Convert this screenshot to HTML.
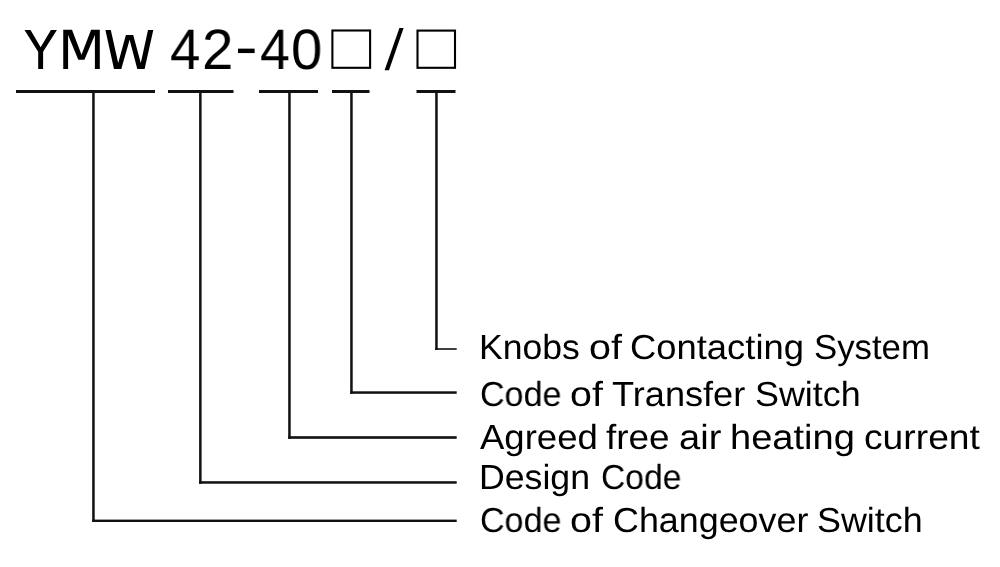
<!DOCTYPE html>
<html><head><meta charset="utf-8"><style>
html,body{margin:0;padding:0;background:#fff;width:1000px;height:567px;overflow:hidden;position:relative}
.t{position:absolute;font-family:"Liberation Sans",sans-serif;line-height:1;white-space:nowrap;color:#000;transform-origin:0 0;text-rendering:geometricPrecision;will-change:transform}
</style></head><body>
<svg width="1000" height="567" viewBox="0 0 1000 567" style="position:absolute;left:0;top:0">
<g fill="#111">
<rect x="16" y="90" width="139" height="3"/>
<rect x="168" y="90" width="65.5" height="3"/>
<rect x="259" y="90" width="59" height="3"/>
<rect x="332" y="90" width="37.5" height="3"/>
<rect x="416.5" y="90" width="39" height="3"/>
<rect x="92.2" y="92" width="2.5" height="430"/>
<rect x="199.1" y="92" width="2.5" height="391.8"/>
<rect x="288.2" y="92" width="2.5" height="346.8"/>
<rect x="350.2" y="92" width="2.5" height="301.8"/>
<rect x="435.2" y="92" width="2.5" height="258"/>
<rect x="92.2" y="519.6" width="364.5" height="2.4"/>
<rect x="199.1" y="481.2" width="257.6" height="2.5"/>
<rect x="288.2" y="436.2" width="168.5" height="2.6"/>
<rect x="350.2" y="391.3" width="106.5" height="2.5"/>
<rect x="435.2" y="348.2" width="21.5" height="1.6"/>
</g>
<g fill="none" stroke="#000" stroke-width="2.1">
<rect x="332.4" y="30.5" width="37.7" height="37.3"/>
<rect x="417.5" y="30.6" width="37.5" height="37.2"/>
</g>
<polygon fill="#000" points="399.4,28 403.6,28 389,70.3 384.6,70.3"/>
<polygon fill="#000" points="24.5,29.9 30.5,29.9 40.65,47.3 50.9,29.9 56.9,29.9 43.1,51.8 43.1,68.9 38.2,68.9 38.2,51.8"/>
<polygon fill="#000" points="63.25,29.7 72,29.7 81.5,54.8 91.1,29.7 99.8,29.7 99.8,68.9 94.9,68.9 94.9,34.9 84.4,59.7 78.3,59.7 68.1,34.9 68.1,68.9 63.25,68.9"/>
<polygon fill="#000" points="105.4,29.9 110.8,29.9 118.2,62.9 125.9,34.9 133.2,34.9 140.8,62.9 148,29.9 153.3,29.9 144.6,68.9 137.3,68.9 129.6,39.8 121.3,68.9 114,68.9"/>
</svg>
<div class="t" style="left:169.71px;top:21.75px;font-size:57.00px;transform:scaleX(0.9563)">4</div>
<div class="t" style="left:202.38px;top:21.75px;font-size:57.00px;transform:scaleX(0.9878)">2</div>
<div class="t" style="left:259.93px;top:21.75px;font-size:57.00px;transform:scaleX(0.9426)">4</div>
<div class="t" style="left:291.45px;top:21.75px;font-size:57.00px;transform:scaleX(0.9868)">0</div>
<div class="t" style="left:234.88px;top:19.25px;font-size:57.00px;transform:scaleX(1.1930)">-</div>
<div class="t" style="left:478.55px;top:330.56px;font-size:34.78px;transform:scaleX(1.0232)">Knobs</div>
<div class="t" style="left:588.62px;top:330.56px;font-size:34.78px;transform:scaleX(1.1354)">of</div>
<div class="t" style="left:630.38px;top:330.56px;font-size:34.78px;transform:scaleX(1.0466)">Contacting</div>
<div class="t" style="left:814.06px;top:330.56px;font-size:34.78px;transform:scaleX(1.0000)">System</div>
<div class="t" style="left:479.70px;top:377.86px;font-size:34.78px;transform:scaleX(0.9800)">Code</div>
<div class="t" style="left:570.22px;top:377.86px;font-size:34.78px;transform:scaleX(1.1354)">of</div>
<div class="t" style="left:612.08px;top:377.86px;font-size:34.78px;transform:scaleX(1.0397)">Transfer</div>
<div class="t" style="left:755.00px;top:377.86px;font-size:34.78px;transform:scaleX(1.0322)">Switch</div>
<div class="t" style="left:479.50px;top:420.56px;font-size:34.78px;transform:scaleX(1.0508)">Agreed</div>
<div class="t" style="left:606.03px;top:420.56px;font-size:34.78px;transform:scaleX(1.0605)">free</div>
<div class="t" style="left:679.28px;top:420.56px;font-size:34.78px;transform:scaleX(1.0952)">air</div>
<div class="t" style="left:730.33px;top:420.56px;font-size:34.78px;transform:scaleX(1.0952)">heating</div>
<div class="t" style="left:864.11px;top:420.56px;font-size:34.78px;transform:scaleX(1.0713)">current</div>
<div class="t" style="left:478.74px;top:460.56px;font-size:34.78px;transform:scaleX(1.0261)">Design</div>
<div class="t" style="left:600.52px;top:460.56px;font-size:34.78px;transform:scaleX(0.9675)">Code</div>
<div class="t" style="left:479.70px;top:503.56px;font-size:34.78px;transform:scaleX(0.9800)">Code</div>
<div class="t" style="left:570.22px;top:503.56px;font-size:34.78px;transform:scaleX(1.1354)">of</div>
<div class="t" style="left:612.61px;top:503.56px;font-size:34.78px;transform:scaleX(1.0314)">Changeover</div>
<div class="t" style="left:816.80px;top:503.56px;font-size:34.78px;transform:scaleX(1.0322)">Switch</div>
</body></html>
